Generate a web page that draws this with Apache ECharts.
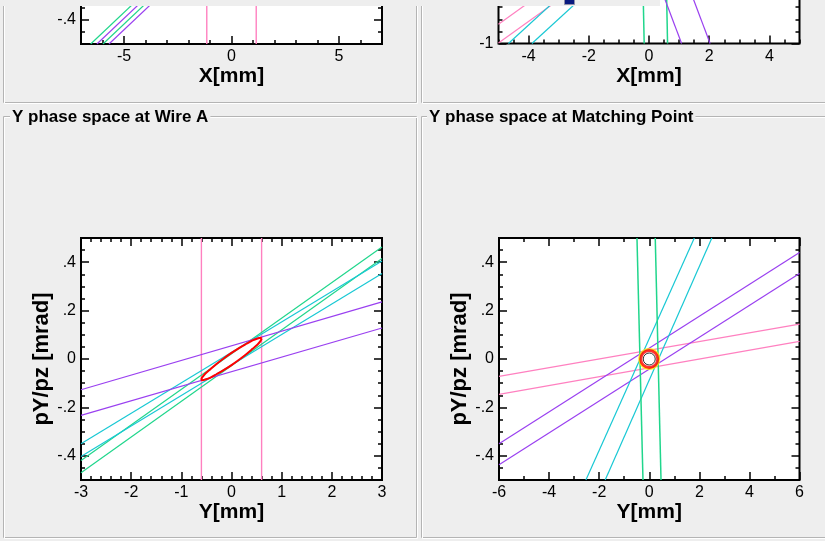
<!DOCTYPE html>
<html>
<head>
<meta charset="utf-8">
<script src="https://cdn.jsdelivr.net/npm/echarts@6/dist/echarts.min.js"></script>
<style>
html,body{margin:0;padding:0;background:#eeeeee;}
#c{width:825px;height:541px;}
</style>
</head>
<body>
<div id="c"></div>
<script>
// ---------- tick values (labels) ----------
const tlXTicks = [-5, 0, 5];
const tlYTicks = [-0.4, -0.2, 0, 0.2, 0.4];
const trXTicks = [-4, -2, 0, 2, 4];
const trYTicks = [-1, -0.5, 0, 0.5, 1];
const blXTicks = [-3, -2, -1, 0, 1, 2, 3];
const blYTicks = [-0.4, -0.2, 0, 0.2, 0.4];
const brXTicks = [-6, -4, -2, 0, 2, 4, 6];
const brYTicks = [-0.4, -0.2, 0, 0.2, 0.4];

// ---------- top-left: X phase space at Wire A (bottom strip visible) ----------
const tlGreen  = [[[-6.55, -0.5], [5.35, 0.5]], [[-5.98, -0.5], [5.92, 0.5]]];
const tlPurple = [[[-6.26, -0.5], [5.64, 0.5]], [[-5.70, -0.5], [6.20, 0.5]]];
const tlPink   = [[[-1.15, -0.5], [-1.15, 0.5]], [[1.15, -0.5], [1.15, 0.5]]];

// ---------- top-right: X phase space at Matching Point (bottom strip visible) ----------
const trPink   = [[[-5, -0.84], [5, 0.94]], [[-5, -0.995], [5, 0.785]]];
const trCyan   = [[[-4.67, -1], [4.10, 1]], [[-3.89, -1], [4.88, 1]]];
const trGreen  = [[[-0.16, -1], [-0.33, 1]], [[0.617, -1], [0.45, 1]]];
const trPurple = [[[1.083, -1], [-1.95, 1]], [[2.03, -1], [-1.0, 1]]];

// ---------- bottom-left: Y phase space at Wire A ----------
const blPink   = [[[-0.6, -0.5], [-0.6, 0.5]], [[0.6, -0.5], [0.6, 0.5]]];
const blGreen  = [[[-3, -0.47], [3, 0.415]], [[-3, -0.419], [3, 0.463]]];
const blCyan   = [[[-3, -0.35], [3, 0.405]], [[-3, -0.403], [3, 0.353]]];
const blPurple = [[[-3, -0.127], [3, 0.236]], [[-3, -0.233], [3, 0.128]]];
const blEllipse = [[0.6,0.084],[0.58,0.0875],[0.52,0.085],[0.42,0.077],[0.3,0.063],[0.15,0.045],[0,0.025],
  [-0.15,0.003],[-0.3,-0.021],[-0.42,-0.042],[-0.52,-0.06],[-0.58,-0.075],[-0.6,-0.084],[-0.58,-0.0875],
  [-0.52,-0.085],[-0.42,-0.077],[-0.3,-0.063],[-0.15,-0.045],[0,-0.025],[0.15,-0.003],[0.3,0.021],
  [0.42,0.042],[0.52,0.06],[0.58,0.075],[0.6,0.084]];

// ---------- bottom-right: Y phase space at Matching Point ----------
const brPink   = [[[-6, -0.072], [6, 0.144]], [[-6, -0.146], [6, 0.073]]];
const brPurple = [[[-6, -0.35], [6, 0.44]], [[-6, -0.437], [6, 0.353]]];
const brCyan   = [[[-2.53, -0.5], [1.80, 0.5]], [[-1.76, -0.5], [2.50, 0.5]]];
const brGreen  = [[[-0.25, -0.5], [-0.49, 0.5]], [[0.47, -0.5], [0.24, 0.5]]];
const brSpot   = [[0, 0]];

// ---------- styling ----------
const BG = '#eeeeee';
const FONT = '"Liberation Sans", Arial, Helvetica, sans-serif';
const C_PINK = '#ff80c0', C_CYAN = '#18c8d4', C_GREEN = '#20d68c', C_PURPLE = '#9a40f0', C_RED = '#ff0000';

const grids = [], xAxes = [], yAxes = [], series = [];

function fmt(v) {
  if (Math.abs(v) < 1e-9) return '0';
  const s = String(+(+v).toFixed(3));
  return s.replace(/^(-?)0\./, '$1.');
}

function addPlot(rect, xr, yr, xTicks, xMinor, yTicks, yMinor, xName, yName) {
  const gi = grids.length;
  grids.push({left: rect[0], top: rect[1], width: rect[2], height: rect[3], show: true,
    backgroundColor: '#ffffff', borderColor: '#000000', borderWidth: 2,
    containLabel: false, outerBoundsMode: 'none'});
  const tick = {color: '#000', width: 1.5};
  const base = (pos, r) => ({gridIndex: gi, type: 'value', min: r[0], max: r[1], position: pos,
    axisLine: {show: false, onZero: false}, splitLine: {show: false}, silent: true});
  const nameStyle = {fontSize: 21, fontWeight: 'bold', fontFamily: FONT, color: '#000'};
  const labelStyle = {margin: 5, fontSize: 16, fontFamily: FONT, color: '#000', formatter: fmt};
  const xi = xAxes.length, yi = yAxes.length;
  xAxes.push(Object.assign(base('bottom', xr), {
    axisTick: {inside: true, length: 8, customValues: xTicks, lineStyle: tick},
    axisLabel: Object.assign({customValues: xTicks}, labelStyle),
    name: xName, nameLocation: 'middle', nameGap: 21, nameTextStyle: nameStyle}));
  xAxes.push(Object.assign(base('bottom', xr), {interval: xMinor,
    axisTick: {inside: true, length: 4, lineStyle: tick}, axisLabel: {show: false}}));
  xAxes.push(Object.assign(base('top', xr), {
    axisTick: {inside: true, length: 8, customValues: xTicks, lineStyle: tick}, axisLabel: {show: false}}));
  xAxes.push(Object.assign(base('top', xr), {interval: xMinor,
    axisTick: {inside: true, length: 4, lineStyle: tick}, axisLabel: {show: false}}));
  const yMain = Object.assign(base('left', yr), {
    axisTick: {inside: true, length: 8, customValues: yTicks, lineStyle: tick},
    axisLabel: Object.assign({customValues: yTicks}, labelStyle)});
  if (yName) Object.assign(yMain, {name: yName, nameLocation: 'middle', nameGap: 25,
    nameTextStyle: Object.assign({}, nameStyle, {fontSize: 22})});
  yAxes.push(yMain);
  yAxes.push(Object.assign(base('left', yr), {interval: yMinor,
    axisTick: {inside: true, length: 4, lineStyle: tick}, axisLabel: {show: false}}));
  yAxes.push(Object.assign(base('right', yr), {
    axisTick: {inside: true, length: 8, customValues: yTicks, lineStyle: tick}, axisLabel: {show: false}}));
  yAxes.push(Object.assign(base('right', yr), {interval: yMinor,
    axisTick: {inside: true, length: 4, lineStyle: tick}, axisLabel: {show: false}}));
  return {xi, yi};
}

function addLines(p, lines, color, width) {
  lines.forEach(function (pts) {
    series.push({type: 'line', xAxisIndex: p.xi, yAxisIndex: p.yi, data: pts,
      symbol: 'none', showSymbol: false, silent: true, animation: false,
      lineStyle: {color: color, width: width || 1.2}, z: 3});
  });
}

const pTL = addPlot([81, -198, 301, 242], [-7, 7], [-0.5, 0.5], tlXTicks, 1, tlYTicks, 0.05, 'X[mm]', null);
const pTR = addPlot([498.5, -198.5, 301, 242], [-5, 5], [-1, 1], trXTicks, 0.5, trYTicks, 0.1, 'X[mm]', null);
const pBL = addPlot([81, 238, 301, 242], [-3, 3], [-0.5, 0.5], blXTicks, 0.2, blYTicks, 0.05, 'Y[mm]', 'pY/pz [mrad]');
const pBR = addPlot([499, 238, 300.5, 242], [-6, 6], [-0.5, 0.5], brXTicks, 1, brYTicks, 0.05, 'Y[mm]', 'pY/pz [mrad]');

addLines(pTL, tlPink, C_PINK, 1.4);
addLines(pTL, tlGreen, C_GREEN);
addLines(pTL, tlPurple, C_PURPLE);

addLines(pTR, trPink, C_PINK);
addLines(pTR, trCyan, C_CYAN);
addLines(pTR, trGreen, C_GREEN, 1.5);
addLines(pTR, trPurple, C_PURPLE);

addLines(pBL, blPink, C_PINK, 1.4);
addLines(pBL, blGreen, C_GREEN);
addLines(pBL, blCyan, C_CYAN);
addLines(pBL, blPurple, C_PURPLE);
series.push({type: 'line', xAxisIndex: pBL.xi, yAxisIndex: pBL.yi, data: blEllipse, symbol: 'none',
  smooth: 0.3, silent: true, animation: false, lineStyle: {color: C_RED, width: 2}, z: 5});

addLines(pBR, brPink, C_PINK);
addLines(pBR, brPurple, C_PURPLE);
addLines(pBR, brCyan, C_CYAN);
addLines(pBR, brGreen, C_GREEN, 1.5);
series.push({type: 'scatter', xAxisIndex: pBR.xi, yAxisIndex: pBR.yi, data: brSpot, symbol: 'circle',
  symbolSize: 20, silent: true, animation: false, z: 5,
  itemStyle: {color: 'rgba(0,0,0,0)', borderColor: '#ffee00', borderWidth: 2}});
series.push({type: 'scatter', xAxisIndex: pBR.xi, yAxisIndex: pBR.yi, data: brSpot, symbol: 'circle',
  symbolSize: 17, silent: true, animation: false, z: 6,
  itemStyle: {color: '#ffffff', borderColor: C_RED, borderWidth: 3}});
series.push({type: 'scatter', xAxisIndex: pBR.xi, yAxisIndex: pBR.yi, data: brSpot, symbol: 'circle',
  symbolSize: 12, silent: true, animation: false, z: 7,
  itemStyle: {color: 'rgba(0,0,0,0)', borderColor: '#000000', borderWidth: 1}});

// ---------- panel frames (etched) and titles ----------
function etched(x, y, w, h) {
  return [
    {type: 'rect', silent: true, z: 0, shape: {x: x + 0.5, y: y + 0.5, width: w, height: h},
      style: {fill: 'none', stroke: '#b4b4b4', lineWidth: 1}},
    {type: 'rect', silent: true, z: 0, shape: {x: x + 1.5, y: y + 1.5, width: w, height: h},
      style: {fill: 'none', stroke: '#ffffff', lineWidth: 1}}
  ];
}
const graphics = [].concat(
  etched(3, -200, 413, 302),
  etched(421, -200, 410, 302),
  etched(3, 116, 413, 421),
  etched(421, 116, 410, 421),
  [
    {type: 'text', silent: true, z: 10, style: {text: 'Y phase space at Wire A', x: 10, y: 117,
      font: 'bold 17px ' + FONT, fill: '#000', verticalAlign: 'middle', backgroundColor: BG, padding: [0, 2]}},
    {type: 'text', silent: true, z: 10, style: {text: 'Y phase space at Matching Point', x: 427, y: 117,
      font: 'bold 17px ' + FONT, fill: '#000', verticalAlign: 'middle', backgroundColor: BG, padding: [0, 2]}},
    {type: 'rect', silent: true, z: 100, shape: {x: 0, y: 0, width: 660, height: 6}, style: {fill: BG}},
    {type: 'rect', silent: true, z: 101, shape: {x: 564.5, y: -1.5, width: 10, height: 6},
      style: {fill: '#0a1a80', stroke: '#9090a8', lineWidth: 1}}
  ]
);

const chart = echarts.init(document.getElementById('c'), null, {renderer: 'canvas'});
chart.setOption({
  animation: false,
  backgroundColor: BG,
  grid: grids,
  xAxis: xAxes,
  yAxis: yAxes,
  series: series,
  graphic: graphics
});
</script>
</body>
</html>
